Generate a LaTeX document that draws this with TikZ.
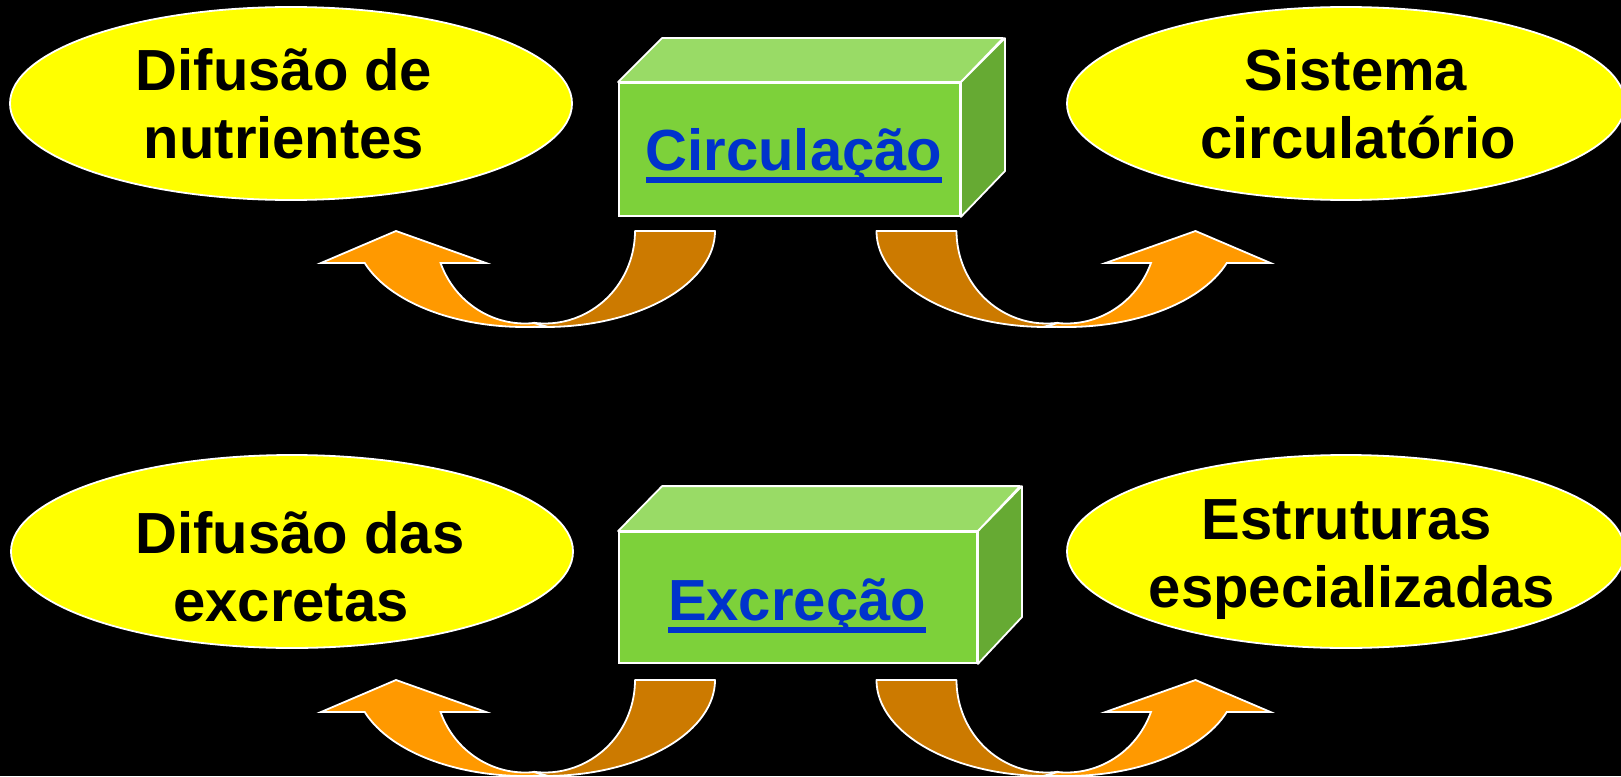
\documentclass[tikz,border=0pt]{standalone}
\usepackage{fontspec}
\setmainfont{Liberation Sans}
\usetikzlibrary{shapes.geometric}
\definecolor{yel}{HTML}{FFFF00}
\definecolor{frontg}{HTML}{7DD13A}
\definecolor{topg}{HTML}{99DB66}
\definecolor{sideg}{HTML}{66AA33}
\definecolor{linkblue}{HTML}{0033CC}
\definecolor{orlight}{HTML}{FF9900}
\definecolor{ordark}{HTML}{CC7A00}
\newcommand\myul[1]{\setbox0=\hbox{#1}\rlap{\rule[-13pt]{\wd0}{6.5pt}}\box0}
\tikzset{
  ell/.style={ellipse, draw=white, line width=1.8pt, fill=yel, inner sep=0pt, minimum height=193pt},
  txt/.style={anchor=base, inner sep=0pt, text=black, font=\fontsize{58}{68}\selectfont\bfseries},
  boxtxt/.style={anchor=base, inner sep=0pt, text=linkblue, font=\fontsize{58}{68}\selectfont\bfseries},
  front/.style={rectangle, draw=white, line width=1.8pt, fill=frontg, inner sep=0pt},
  topface/.style={draw=white, line width=1.8pt, fill=topg, line join=round},
  sideface/.style={draw=white, line width=1.8pt, fill=sideg, line join=round},
  darkarr/.style={draw=white, line width=1.8pt, fill=ordark, line join=round},
  lightarr/.style={draw=white, line width=1.8pt, fill=orlight, line join=miter},
  curvarrow/.pic={
    \path[darkarr] ([shift={(545,231)}]0:170 and 96)
      arc[start angle=0, end angle=97, x radius=170, y radius=96]
      -- ([shift={(545,231)}]97:90 and 92.5)
      arc[start angle=97, end angle=0, x radius=90, y radius=92.5] -- cycle;
    \path[lightarr] ([shift={(525,231)}]83:170 and 96)
      arc[start angle=83, end angle=160.53, x radius=170, y radius=96]
      -- (321,263) -- (396,231) -- (486,263)
      -- ([shift={(525,231)}]159.76:90 and 92.5)
      arc[start angle=159.76, end angle=84.3, x radius=90, y radius=92.5] -- cycle;
  }
}
\begin{document}
\begin{tikzpicture}[x=1pt, y=-1pt]
\useasboundingbox (0,0) rectangle (1621,776);
\fill[black] (0,0) rectangle (1621,776);

% ---------- top row ----------
\node[ell, minimum width=562pt] (e1) at (291,103.5) {};
\node[txt] (e1a) at (284,90) {Difusão de};
\node[txt] (e1b) at (284,158) {nutrientes};

\node[ell, minimum width=558pt] (e2) at (1346,103.5) {};
\node[txt] (e2a) at (1356,90) {Sistema};
\node[txt] (e2b) at (1358,158) {circulatório};

\node[front, minimum width=341pt, minimum height=133pt] (b1) at (789.5,149.5) {};
\path[topface] (b1.north west) -- ++(44,-44) -- ++(341,0) -- (b1.north east) -- cycle;
\path[sideface] (b1.north east) -- ++(44,-44) -- ++(0,133) -- (b1.south east) -- cycle;
\node[boxtxt] (b1t) at (794,170) {\myul{Circulação}};

\pic at (0,0) {curvarrow};
\pic[xscale=-1] at (1591.5,0) {curvarrow};

% ---------- bottom row ----------
\node[ell, minimum width=562pt] (e3) at (292,551.5) {};
\node[txt] (e3a) at (300,553) {Difusão das};
\node[txt] (e3b) at (291,621) {excretas};

\node[ell, minimum width=558pt] (e4) at (1346,551.5) {};
\node[txt] (e4a) at (1347,539) {Estruturas};
\node[txt] (e4b) at (1352,607) {especializadas};

\node[front, minimum width=358pt, minimum height=131pt] (b2) at (798,597.5) {};
\path[topface] (b2.north west) -- ++(44,-45) -- ++(358,0) -- (b2.north east) -- cycle;
\path[sideface] (b2.north east) -- ++(44,-45) -- ++(0,131) -- (b2.south east) -- cycle;
\node[boxtxt] (b2t) at (797,620) {\myul{Excreção}};

\pic at (0,449) {curvarrow};
\pic[xscale=-1] at (1591.5,449) {curvarrow};
\end{tikzpicture}
\end{document}
